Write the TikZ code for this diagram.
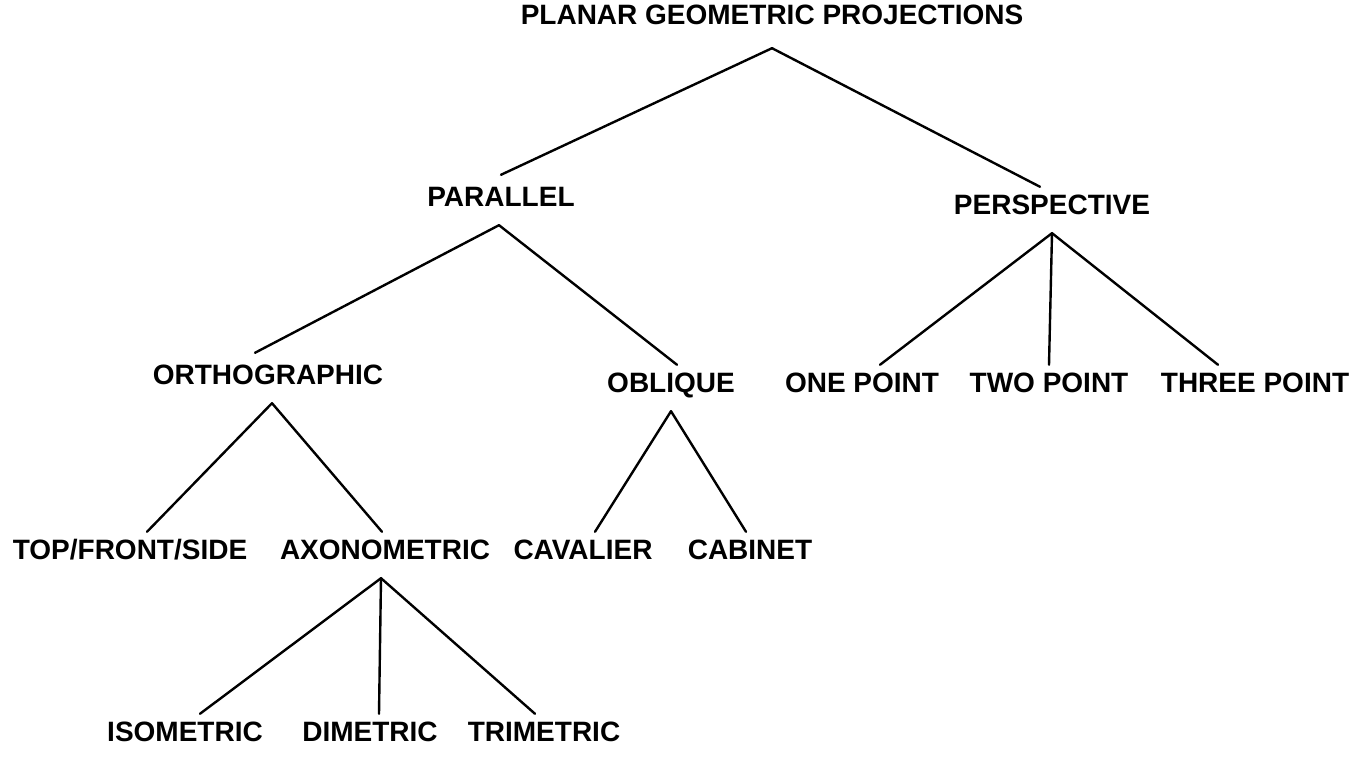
\documentclass[tikz,border=0pt]{standalone}
\usepackage{fontspec}
\setmainfont{Liberation Sans}
\begin{document}
\begin{tikzpicture}[x=1pt,y=1pt,
  term/.style={font=\fontsize{28}{30}\selectfont\bfseries,anchor=base,inner xsep=0pt,inner ysep=8pt,text height=20pt,text depth=0pt},
  branch/.style={line width=2.4pt,line cap=round}
]
\useasboundingbox (0,0) rectangle (1372,759);
% levels of the tree
\node[term] (root) at (772,734) {PLANAR GEOMETRIC PROJECTIONS};
\node[term] (par) at (501,552) {PARALLEL};
\node[term] (persp) at (1052,544) {PERSPECTIVE};
\node[term] (orth) at (268,374) {ORTHOGRAPHIC};
\node[term] (obl) at (671,366) {OBLIQUE};
\node[term] (one) at (862,366) {ONE POINT};
\node[term] (two) at (1049,366) {TWO POINT};
\node[term] (three) at (1255,366) {THREE POINT};
\node[term] (tfs) at (130,199) {TOP/FRONT/SIDE};
\node[term] (axo) at (385,199) {AXONOMETRIC};
\node[term] (cav) at (583,199) {CAVALIER};
\node[term] (cab) at (750,199) {CABINET};
\node[term] (iso) at (185,17) {ISOMETRIC};
\node[term] (dim) at (370,17) {DIMETRIC};
\node[term] (tri) at (544,17) {TRIMETRIC};
% branches
\draw[branch] ([yshift=-15pt]root.south) -- ([yshift=4pt]par.north);
\draw[branch] ([yshift=-15pt]root.south) -- ([xshift=-12pt]persp.north);
\draw[branch] ([xshift=-2pt,yshift=-10pt]par.south) -- ([xshift=-13pt,yshift=4pt]orth.north);
\draw[branch] ([xshift=-2pt,yshift=-10pt]par.south) -- ([xshift=6pt]obl.north);
\draw[branch] ([yshift=-10pt]persp.south) -- ([xshift=18pt]one.north);
\draw[branch] ([yshift=-10pt]persp.south) -- (two.north);
\draw[branch] ([yshift=-10pt]persp.south) -- ([xshift=-37pt]three.north);
\draw[branch] ([xshift=4pt,yshift=-10pt]orth.south) -- ([xshift=17pt]tfs.north);
\draw[branch] ([xshift=4pt,yshift=-10pt]orth.south) -- ([xshift=-3pt]axo.north);
\draw[branch] ([yshift=-10pt]obl.south) -- ([xshift=12pt]cav.north);
\draw[branch] ([yshift=-10pt]obl.south) -- ([xshift=-4pt]cab.north);
\draw[branch] ([xshift=-4pt,yshift=-10pt]axo.south) -- ([xshift=15pt]iso.north);
\draw[branch] ([xshift=-4pt,yshift=-10pt]axo.south) -- ([xshift=9pt]dim.north);
\draw[branch] ([xshift=-4pt,yshift=-10pt]axo.south) -- ([xshift=-9pt]tri.north);
\end{tikzpicture}
\end{document}
